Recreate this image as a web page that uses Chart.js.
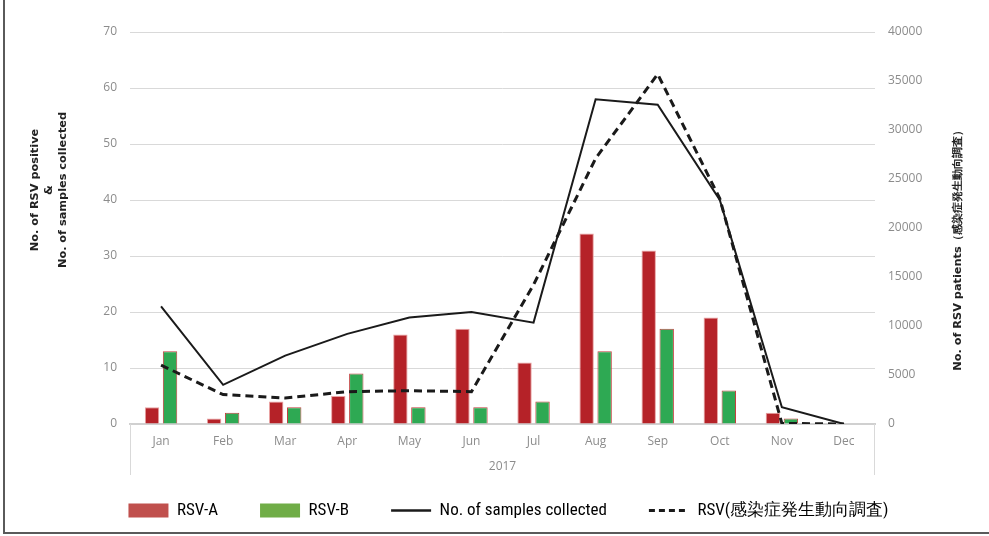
<!DOCTYPE html>
<html>
<head>
<meta charset="utf-8">
<script src="https://cdn.jsdelivr.net/npm/chart.js@4.4.1/dist/chart.umd.min.js"></script>
<style>
  body { margin: 0; background: #fff; }
  #wrap { width: 989px; height: 536px; }
</style>
</head>
<body>
<div id="wrap"><canvas id="rsvChart" width="989" height="536"></canvas></div>
<script>
// months of 2017
const months = ['Jan', 'Feb', 'Mar', 'Apr', 'May', 'Jun', 'Jul', 'Aug', 'Sep', 'Oct', 'Nov', 'Dec'];

// left axis series
const rsvA = [3, 1, 4, 5, 16, 17, 11, 34, 31, 19, 2, 0];
const rsvB = [13, 2, 3, 9, 3, 3, 4, 13, 17, 6, 1, 0];
const samplesCollected = [21, 7, 12.2, 16.1, 19, 20, 18.1, 58, 57, 40, 3, 0];

// right axis series (national surveillance)
const rsvSurveillance = [6000, 3000, 2650, 3300, 3400, 3300, 14200, 27100, 35700, 23000, 60, 0];

const leftTicks = { min: 0, max: 70, step: 10 };
const rightTicks = { min: 0, max: 40000, step: 5000 };

const legendNames = ['RSV-A', 'RSV-B', 'No. of samples collected', 'RSV(感染症発生動向調査)'];
const yearLabel = '2017';
const leftTitle = ['No. of RSV positive', '&', 'No. of samples collected'];
const rightTitle = 'No. of RSV patients（感染症発生動向調査）';

const tickFont = { family: "'Open Sans', 'Liberation Sans', sans-serif", size: 12 };
const narrowFont = "'Liberation Sans Narrow', 'Roboto Condensed', 'Liberation Sans', sans-serif";
const titleFont = "bold 11.3px 'DejaVu Sans', Verdana, sans-serif";

// frame, year group under the axis and the two axis titles
const extras = {
    id: 'extras',
    beforeDraw(chart) {
        const ctx = chart.ctx;
        ctx.save();
        ctx.fillStyle = '#fff';
        ctx.fillRect(0, 0, chart.width, chart.height);
        ctx.restore();
    },
    afterDraw(chart) {
        const ctx = chart.ctx;
        const area = chart.chartArea;
        const midY = (area.top + area.bottom) / 2;
        ctx.save();
        // year group: side lines and label
        ctx.strokeStyle = '#d9d9d9';
        ctx.lineWidth = 1;
        ctx.beginPath();
        ctx.moveTo(area.left + 0.5, area.bottom);
        ctx.lineTo(area.left + 0.5, area.bottom + 51);
        ctx.moveTo(area.right - 0.5, area.bottom);
        ctx.lineTo(area.right - 0.5, area.bottom + 51);
        ctx.stroke();
        ctx.fillStyle = '#8c8c8c';
        ctx.font = "12px 'Open Sans', 'Liberation Sans', sans-serif";
        ctx.textAlign = 'center';
        ctx.textBaseline = 'middle';
        ctx.fillText(yearLabel, (area.left + area.right) / 2, area.bottom + 43);
        // outer frame, left and bottom
        ctx.strokeStyle = '#5a5a5a';
        ctx.lineWidth = 2;
        ctx.beginPath();
        ctx.moveTo(4, 0);
        ctx.lineTo(4, 533);
        ctx.lineTo(chart.width, 533);
        ctx.stroke();

        ctx.fillStyle = '#222';
        ctx.font = titleFont;
        // left axis title, three lines reading bottom to top
        const leftX = [35, 49, 63];
        leftTitle.forEach((line, i) => {
            ctx.save();
            ctx.translate(leftX[i], midY - 38);
            ctx.rotate(-Math.PI / 2);
            ctx.fillText(line, 0, 0);
            ctx.restore();
        });
        // right axis title
        ctx.translate(958, midY + 20);
        ctx.rotate(-Math.PI / 2);
        ctx.fillText(rightTitle, 0, 0);
        ctx.restore();
    }
};

const legendColors = ['#c0504d', '#70ad47', '#1a1a1a', '#1a1a1a'];

const ctx = document.getElementById('rsvChart').getContext('2d');
const chart = new Chart(ctx, {
    type: 'bar',
    data: {
        labels: months,
        datasets: [{
            label: legendNames[0],
            data: rsvA,
            backgroundColor: '#b52228',
            borderColor: '#e9a2a2',
            borderWidth: 1,
            yAxisID: 'y',
            order: 3,
            categoryPercentage: 0.58,
            barPercentage: 0.8
        }, {
            label: legendNames[1],
            data: rsvB,
            backgroundColor: '#2ea953',
            borderColor: '#c0403f',
            borderWidth: 1,
            yAxisID: 'y',
            order: 4,
            categoryPercentage: 0.58,
            barPercentage: 0.8
        }, {
            type: 'line',
            label: legendNames[2],
            data: samplesCollected,
            borderColor: '#1a1a1a',
            borderWidth: 2,
            pointRadius: 0,
            tension: 0,
            fill: false,
            yAxisID: 'y',
            order: 2
        }, {
            type: 'line',
            label: legendNames[3],
            data: rsvSurveillance,
            borderColor: '#1a1a1a',
            borderWidth: 3,
            borderDash: [8, 5],
            pointRadius: 0,
            tension: 0,
            fill: false,
            yAxisID: 'y1',
            order: 1
        }]
    },
    options: {
        responsive: false,
        animation: false,
        layout: { padding: { top: 32, left: 28, right: 0, bottom: 7 } },
        plugins: {
            tooltip: { enabled: false },
            legend: {
                position: 'bottom',
                labels: {
                    usePointStyle: true,
                    pointStyleWidth: 40,
                    boxWidth: 40,
                    boxHeight: 14,
                    padding: 42,
                    color: '#333',
                    font: { family: narrowFont, size: 17 },
                    generateLabels: function(chart) {
                        return chart.data.datasets.map((ds, i) => ({
                            text: ds.label,
                            fillStyle: legendColors[i],
                            strokeStyle: legendColors[i],
                            lineWidth: i < 2 ? 0 : (i === 2 ? 2.5 : 3),
                            lineDash: i === 3 ? [6, 4] : [],
                            pointStyle: i < 2 ? 'rect' : 'line',
                            datasetIndex: i,
                            hidden: false
                        }));
                    }
                }
            }
        },
        scales: {
            x: {
                grid: { display: false, drawTicks: false },
                border: { color: '#d0d0d0', width: 2 },
                ticks: { color: '#8c8c8c', font: tickFont, padding: 10 },
                afterFit(scale) { scale.height = 36; }
            },
            y: {
                position: 'left',
                min: leftTicks.min,
                max: leftTicks.max,
                ticks: { stepSize: leftTicks.step, color: '#8c8c8c', font: tickFont, padding: 13 },
                grid: { color: '#d9d9d9', drawTicks: false },
                border: { display: false },
                afterFit(scale) { scale.width = 102; }
            },
            y1: {
                position: 'right',
                min: rightTicks.min,
                max: rightTicks.max,
                ticks: {
                    stepSize: rightTicks.step,
                    color: '#8c8c8c',
                    font: tickFont,
                    padding: 13,
                    callback: value => String(value)
                },
                grid: { display: false, drawTicks: false },
                border: { display: false },
                afterFit(scale) { scale.width = 114; }
            }
        }
    },
    plugins: [extras]
});
</script>
</body>
</html>
